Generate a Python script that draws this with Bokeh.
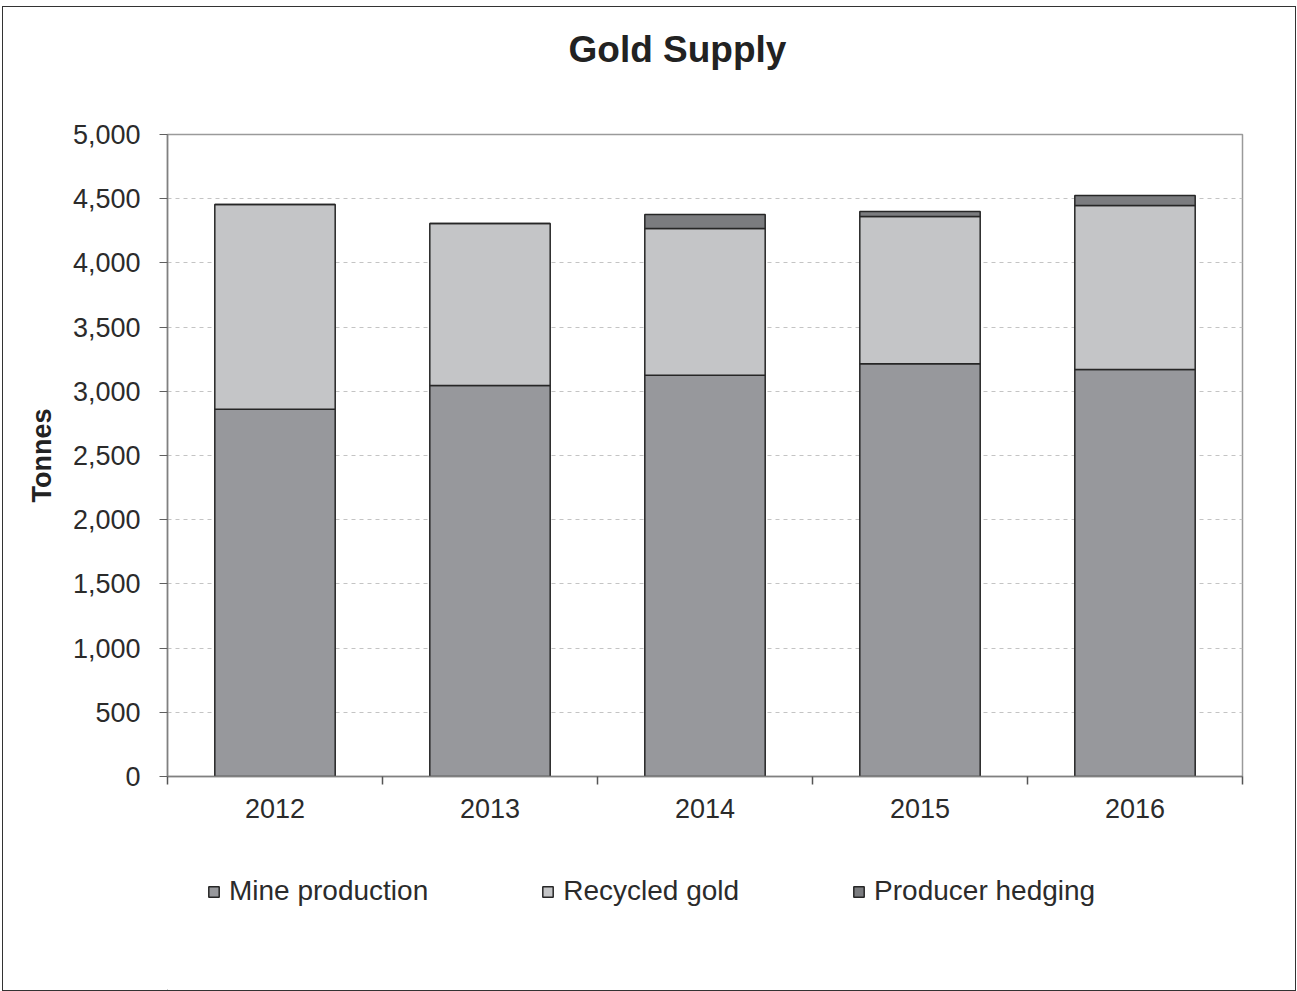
from bokeh.plotting import figure
from bokeh.models import (FixedTicker, NumeralTickFormatter, Legend, LegendItem,
                          ColumnDataSource, Range1d, Title)
from bokeh.layouts import column
from bokeh.embed import file_html
from bokeh.resources import INLINE

# ---- data ----
years = ["2012", "2013", "2014", "2015", "2016"]
mine_production = [2860, 3045, 3125, 3215, 3170]
recycled_gold = [1595, 1262, 1143, 1146, 1277]
producer_hedging = [0, 0, 109, 39, 78]
series_names = ["Mine production", "Recycled gold", "Producer hedging"]
series_keys = ["mine", "recycled", "hedging"]
colors = ["#97989c", "#c4c5c7", "#7b7c7f"]
y_ticks = [0, 500, 1000, 1500, 2000, 2500, 3000, 3500, 4000, 4500, 5000]

FONT = "Liberation Sans"
TXT = "#2b2b2b"
EDGE = "#262626"
W = 1292

xpos = [i + 0.5 for i in range(len(years))]
source = ColumnDataSource(dict(x=xpos, mine=mine_production,
                               recycled=recycled_gold, hedging=producer_hedging))

p = figure(width=W, height=843, x_range=Range1d(0, len(years)),
           y_range=Range1d(0, 5000), output_backend="svg", toolbar_location=None,
           min_border_left=164, min_border_right=53, min_border_top=127,
           min_border_bottom=74)
p.title.visible = False

spacer = Title(text=" ", text_font=FONT, text_font_size="56px", standoff=0)
p.add_layout(spacer, "above")
title = Title(text="Gold Supply", text_font=FONT, text_font_size="37px",
              text_font_style="bold", text_color="#222222", align="left",
              offset=401, standoff=0)
p.add_layout(title, "above")

renderers = p.vbar_stack(series_keys, x="x", width=0.56, source=source,
                         fill_color=colors, line_color=EDGE, line_width=1.5)

# grid
p.xgrid.visible = False
p.ygrid.ticker = FixedTicker(ticks=y_ticks)
p.ygrid.grid_line_color = "#c4c4c4"
p.ygrid.grid_line_dash = "4 4"
p.ygrid.grid_line_width = 1

p.outline_line_color = "#9a9a9a"
p.outline_line_width = 1.5

# y axis
p.yaxis.ticker = FixedTicker(ticks=y_ticks)
p.yaxis.formatter = NumeralTickFormatter(format="0,0")
p.yaxis.axis_label = "Tonnes"
p.yaxis.axis_label_text_font = FONT
p.yaxis.axis_label_text_font_size = "27px"
p.yaxis.axis_label_text_font_style = "bold"
p.yaxis.axis_label_text_color = "#222222"
p.yaxis.axis_label_standoff = 13
p.yaxis.major_label_text_font = FONT
p.yaxis.major_label_text_font_size = "27px"
p.yaxis.major_label_text_color = TXT
p.yaxis.major_label_standoff = 19
p.yaxis.major_tick_out = 8
p.yaxis.major_tick_in = 0
p.yaxis.minor_tick_out = 0
p.yaxis.minor_tick_in = 0
p.yaxis.axis_line_color = "#808080"
p.yaxis.major_tick_line_color = "#606060"
p.yaxis.axis_line_width = 1.5

# x axis: labels at category centres, separator ticks at boundaries
p.xaxis.ticker = FixedTicker(ticks=xpos, minor_ticks=list(range(len(years) + 1)))
p.xaxis.major_label_overrides = {x: y for x, y in zip(xpos, years)}
p.xaxis.major_label_text_font = FONT
p.xaxis.major_label_text_font_size = "27px"
p.xaxis.major_label_text_color = TXT
p.xaxis.major_label_standoff = 14
p.xaxis.major_tick_out = 0
p.xaxis.major_tick_in = 0
p.xaxis.minor_tick_out = 8
p.xaxis.minor_tick_in = 0
p.xaxis.minor_tick_line_color = "#555555"
p.xaxis.minor_tick_line_width = 1.5
p.xaxis.axis_line_color = "#808080"
p.xaxis.axis_line_width = 1.5

# ---- legend strip (swatches share the bars' fill styles; their data lie off-range) ----
leg = figure(width=W, height=140, x_range=Range1d(0, 1), y_range=Range1d(0, 1),
             output_backend="svg", toolbar_location=None,
             x_axis_location=None, y_axis_location=None, min_border=0)
leg.title.visible = False
leg.grid.visible = False
leg.outline_line_color = None
swatches = [leg.vbar(x=[-5], top=[-5], bottom=[-6], width=0.1, fill_color=c,
                     line_color=EDGE, line_width=1.5) for c in colors]
items = [LegendItem(label=n, renderers=[r]) for n, r in zip(series_names, swatches)]
legend = Legend(items=items, orientation="horizontal", location=(40, 83),
                label_text_font=FONT, label_text_font_size="28px",
                label_text_color=TXT, glyph_width=13, glyph_height=13,
                label_standoff=9, spacing=113, padding=4, margin=0,
                border_line_color=None, background_fill_alpha=0)
leg.add_layout(legend, "center")

layout = column(p, leg, spacing=0)
layout.styles = {"border": "1px solid #333", "margin": "6px 0px 0px 2px"}

open("out.html", "w").write(file_html(layout, INLINE))
